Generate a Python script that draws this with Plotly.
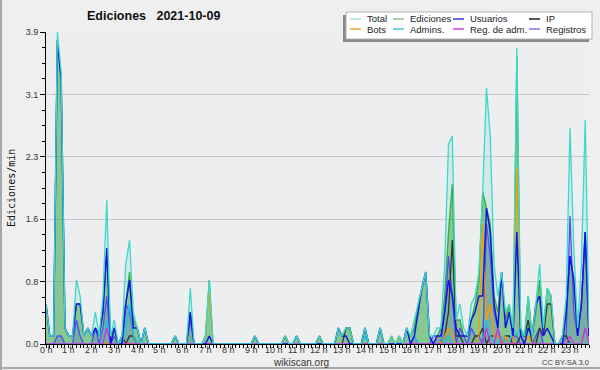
import plotly.graph_objects as go

# ---------------- data (10-minute steps, 6 values per hour) ----------------
hour_labels = [f"{h} h" for h in range(24)]
y_tick_vals = [0, 0.78, 1.56, 2.34, 3.12, 3.9]
y_tick_text = ["0.0", "0.8", "1.6", "2.3", "3.1", "3.9"]

total = [
    0.5, 0.1, 0.1, 3.9, 3.4, 0.2,
    0.1, 0.1, 0.8, 0.6, 0.1, 0.2,
    0.1, 0.4, 0.1, 0.6, 1.8, 0.1,
    0.3, 0.0, 0.1, 1.0, 1.3, 0.4,
    0.2, 0.0, 0.2, 0.0, 0.0, 0.0,
    0.0, 0.0, 0.0, 0.0, 0.1, 0.0,
    0.0, 0.0, 0.7, 0.0, 0.0, 0.0,
    0.1, 0.8, 0.0, 0.0, 0.0, 0.0,
    0.0, 0.0, 0.0, 0.0, 0.0, 0.0,
    0.0, 0.1, 0.0, 0.0, 0.0, 0.0,
    0.0, 0.0, 0.0, 0.1, 0.0, 0.0,
    0.1, 0.0, 0.0, 0.0, 0.0, 0.0,
    0.1, 0.0, 0.0, 0.0, 0.0, 0.2,
    0.1, 0.2, 0.2, 0.0, 0.0, 0.0,
    0.2, 0.0, 0.0, 0.0, 0.2, 0.0,
    0.0, 0.1, 0.0, 0.1, 0.0, 0.2,
    0.1, 0.3, 0.5, 0.7, 0.9, 0.1,
    0.1, 0.2, 0.2, 1.0, 2.5, 2.6,
    0.3, 0.5, 0.2, 0.1, 0.5, 0.6,
    0.9, 1.9, 3.2, 2.6, 1.0, 0.6,
    0.9, 0.4, 0.5, 0.2, 3.7, 0.2,
    0.1, 0.6, 0.1, 0.5, 1.0, 0.2,
    0.7, 0.6, 0.0, 0.0, 0.1, 0.6,
    2.7, 1.2, 0.2, 1.0, 2.8, 0.2,
]

ediciones = [
    0.5, 0.1, 0.1, 3.8, 3.3, 0.2,
    0.1, 0.1, 0.5, 0.5, 0.1, 0.2,
    0.1, 0.2, 0.1, 0.4, 1.2, 0.1,
    0.2, 0.0, 0.1, 0.5, 0.9, 0.3,
    0.2, 0.0, 0.2, 0.0, 0.0, 0.0,
    0.0, 0.0, 0.0, 0.0, 0.1, 0.0,
    0.0, 0.0, 0.4, 0.0, 0.0, 0.0,
    0.1, 0.8, 0.0, 0.0, 0.0, 0.0,
    0.0, 0.0, 0.0, 0.0, 0.0, 0.0,
    0.0, 0.1, 0.0, 0.0, 0.0, 0.0,
    0.0, 0.0, 0.0, 0.1, 0.0, 0.0,
    0.1, 0.0, 0.0, 0.0, 0.0, 0.0,
    0.1, 0.0, 0.0, 0.0, 0.0, 0.2,
    0.1, 0.2, 0.2, 0.0, 0.0, 0.0,
    0.2, 0.0, 0.0, 0.0, 0.2, 0.0,
    0.0, 0.1, 0.0, 0.1, 0.0, 0.2,
    0.1, 0.2, 0.5, 0.7, 0.9, 0.1,
    0.0, 0.1, 0.2, 0.6, 1.4, 2.0,
    0.3, 0.3, 0.1, 0.1, 0.3, 0.5,
    0.8, 1.9, 1.7, 1.5, 0.6, 0.4,
    0.9, 0.3, 0.5, 0.1, 3.6, 0.2,
    0.1, 0.6, 0.1, 0.4, 0.8, 0.2,
    0.7, 0.6, 0.0, 0.0, 0.1, 0.5,
    1.1, 0.8, 0.1, 0.5, 1.4, 0.1,
]

usuarios = [
    0.5, 0.1, 0.1, 3.8, 3.3, 0.2,
    0.1, 0.1, 0.5, 0.5, 0.1, 0.2,
    0.1, 0.2, 0.1, 0.4, 1.2, 0.0,
    0.2, 0.0, 0.0, 0.5, 0.8, 0.2,
    0.2, 0.0, 0.2, 0.0, 0.0, 0.0,
    0.0, 0.0, 0.0, 0.0, 0.1, 0.0,
    0.0, 0.0, 0.4, 0.0, 0.0, 0.0,
    0.0, 0.1, 0.0, 0.0, 0.0, 0.0,
    0.0, 0.0, 0.0, 0.0, 0.0, 0.0,
    0.0, 0.1, 0.0, 0.0, 0.0, 0.0,
    0.0, 0.0, 0.0, 0.0, 0.0, 0.0,
    0.1, 0.0, 0.0, 0.0, 0.0, 0.0,
    0.0, 0.0, 0.0, 0.0, 0.0, 0.2,
    0.1, 0.1, 0.0, 0.0, 0.0, 0.0,
    0.2, 0.0, 0.0, 0.0, 0.2, 0.0,
    0.0, 0.0, 0.0, 0.0, 0.0, 0.2,
    0.0, 0.1, 0.4, 0.7, 0.9, 0.1,
    0.0, 0.1, 0.1, 0.4, 0.8, 0.6,
    0.2, 0.1, 0.1, 0.1, 0.3, 0.4,
    0.6, 0.6, 1.7, 1.4, 0.5, 0.2,
    0.9, 0.2, 0.4, 0.1, 1.4, 0.1,
    0.0, 0.2, 0.1, 0.5, 0.6, 0.1,
    0.2, 0.1, 0.0, 0.0, 0.0, 0.4,
    1.1, 0.8, 0.1, 0.5, 1.4, 0.1,
]

ip = [
    0.0, 0.0, 0.0, 0.0, 0.0, 0.0,
    0.0, 0.0, 0.0, 0.0, 0.0, 0.0,
    0.0, 0.0, 0.0, 0.0, 0.0, 0.0,
    0.0, 0.0, 0.1, 0.0, 0.1, 0.1,
    0.0, 0.0, 0.0, 0.0, 0.0, 0.0,
    0.0, 0.0, 0.0, 0.0, 0.0, 0.0,
    0.0, 0.0, 0.0, 0.0, 0.0, 0.0,
    0.0, 0.0, 0.0, 0.0, 0.0, 0.0,
    0.0, 0.0, 0.0, 0.0, 0.0, 0.0,
    0.0, 0.0, 0.0, 0.0, 0.0, 0.0,
    0.0, 0.0, 0.0, 0.1, 0.0, 0.0,
    0.0, 0.0, 0.0, 0.0, 0.0, 0.0,
    0.1, 0.0, 0.0, 0.0, 0.0, 0.0,
    0.0, 0.2, 0.2, 0.0, 0.0, 0.0,
    0.0, 0.0, 0.0, 0.0, 0.0, 0.0,
    0.0, 0.0, 0.0, 0.0, 0.0, 0.0,
    0.0, 0.0, 0.0, 0.0, 0.0, 0.0,
    0.0, 0.0, 0.0, 0.1, 0.4, 1.3,
    0.1, 0.1, 0.0, 0.0, 0.0, 0.1,
    0.1, 0.2, 0.0, 0.1, 0.1, 0.1,
    0.0, 0.1, 0.1, 0.0, 0.0, 0.1,
    0.1, 0.3, 0.0, 0.0, 0.2, 0.1,
    0.5, 0.5, 0.0, 0.0, 0.1, 0.1,
    0.0, 0.0, 0.0, 0.0, 0.0, 0.0,
]

bots = [0.0] * 42 + [0.1, 0.7, 0.0, 0.0, 0.0, 0.0] + [0.0] * 42 + [
    0.0, 0.1, 0.0, 0.1, 0.0, 0.0,
    0.0, 0.0, 0.0, 0.0, 0.0, 0.0,
    0.0, 0.1, 0.0, 0.1, 0.2, 0.1,
    0.0, 0.0, 0.0, 0.0, 0.0, 0.0,
    0.1, 1.5, 0.3, 0.5, 0.1, 0.1,
    0.0, 0.1, 0.0, 0.0, 2.2, 0.1,
    0.0, 0.1, 0.0, 0.0, 0.0, 0.0,
    0.0, 0.0, 0.0, 0.0, 0.0, 0.0,
    0.0, 0.0, 0.0, 0.0, 0.0, 0.0,
]

admins = [
    0.0, 0.0, 0.0, 0.0, 0.0, 0.0,
    0.0, 0.0, 0.0, 0.0, 0.0, 0.0,
    0.0, 0.0, 0.0, 0.0, 0.3, 0.0,
    0.0, 0.0, 0.0, 0.2, 0.5, 0.1,
    0.0, 0.0, 0.0, 0.0, 0.0, 0.0,
    0.0, 0.0, 0.0, 0.0, 0.0, 0.0,
    0.0, 0.0, 0.0, 0.0, 0.0, 0.0,
    0.0, 0.1, 0.0, 0.0, 0.0, 0.0,
    0.0, 0.0, 0.0, 0.0, 0.0, 0.0,
    0.0, 0.0, 0.0, 0.0, 0.0, 0.0,
    0.0, 0.0, 0.0, 0.0, 0.0, 0.0,
    0.0, 0.0, 0.0, 0.0, 0.0, 0.0,
    0.0, 0.0, 0.0, 0.0, 0.0, 0.0,
    0.0, 0.0, 0.0, 0.0, 0.0, 0.0,
    0.1, 0.0, 0.0, 0.0, 0.0, 0.0,
    0.0, 0.0, 0.0, 0.0, 0.0, 0.0,
    0.0, 0.1, 0.0, 0.0, 0.0, 0.0,
    0.0, 0.0, 0.1, 0.0, 0.1, 0.0,
    0.0, 0.0, 0.0, 0.0, 0.0, 0.0,
    0.0, 0.0, 0.3, 0.1, 0.0, 0.0,
    0.1, 0.0, 0.0, 0.2, 0.1, 0.2,
    0.0, 0.0, 0.0, 0.0, 0.0, 0.0,
    0.0, 0.0, 0.0, 0.0, 0.0, 0.0,
    0.0, 0.0, 0.0, 0.0, 0.0, 0.0,
]

reg_adm = [0.0] * 12 + [0.0, 0.0, 0.0, 0.0, 0.2, 0.0] + [0.0] * 96 + [
    0.0, 0.0, 0.2, 0.0, 0.0, 0.2,
    0.0, 0.0, 0.0, 0.0, 0.0, 0.0,
    0.0, 0.0, 0.0, 0.0, 0.0, 0.0,
    0.0, 0.0, 0.0, 0.0, 0.0, 0.0,
    0.1, 0.0, 0.0, 0.0, 0.2, 0.0,
]

registros = [
    0.0, 0.0, 0.0, 0.1, 0.1, 0.0,
    0.0, 0.0, 0.3, 0.1, 0.0, 0.0,
    0.0, 0.2, 0.0, 0.2, 0.6, 0.0,
    0.1, 0.0, 0.0, 0.5, 0.4, 0.1,
    0.0, 0.0, 0.0, 0.0, 0.0, 0.0,
    0.0, 0.0, 0.0, 0.0, 0.0, 0.0,
    0.0, 0.0, 0.3, 0.0, 0.0, 0.0,
    0.0, 0.0, 0.0, 0.0, 0.0, 0.0,
    0.0, 0.0, 0.0, 0.0, 0.0, 0.0,
    0.0, 0.0, 0.0, 0.0, 0.0, 0.0,
    0.0, 0.0, 0.0, 0.0, 0.0, 0.0,
    0.0, 0.0, 0.0, 0.0, 0.0, 0.0,
    0.0, 0.0, 0.0, 0.0, 0.0, 0.0,
    0.0, 0.0, 0.0, 0.0, 0.0, 0.0,
    0.0, 0.0, 0.0, 0.0, 0.0, 0.0,
    0.0, 0.0, 0.0, 0.0, 0.0, 0.0,
    0.0, 0.1, 0.0, 0.0, 0.0, 0.0,
    0.1, 0.1, 0.0, 0.4, 1.1, 0.6,
    0.0, 0.2, 0.1, 0.0, 0.2, 0.1,
    0.1, 0.0, 1.5, 1.1, 0.4, 0.2,
    0.0, 0.1, 0.0, 0.1, 0.1, 0.0,
    0.0, 0.0, 0.0, 0.1, 0.2, 0.0,
    0.0, 0.0, 0.0, 0.0, 0.0, 0.1,
    1.6, 0.4, 0.1, 0.5, 1.4, 0.1,
]

x_hours = [i / 6 for i in range(len(total))]

# ---------------- figure ----------------
W, H = 600, 370
L_, R_, T_, B_ = 46, 11, 32, 26
PW, PH = W - L_ - R_, H - T_ - B_


def px(xp):
    return (xp - L_) / PW


def py(yp):
    return (H - B_ - yp) / PH


fig = go.Figure()

fig.add_trace(go.Scatter(x=x_hours, y=total, mode="lines", fill="tozeroy",
                         fillcolor="rgba(64,214,200,0.16)",
                         line=dict(color="rgba(0,0,0,0)", width=0), hoverinfo="skip"))
fig.add_trace(go.Scatter(x=x_hours, y=ediciones, mode="lines", fill="tozeroy",
                         fillcolor="rgba(40,160,40,0.45)",
                         line=dict(color="#3aaa3a", width=1.3)))
fig.add_trace(go.Scatter(x=x_hours, y=registros, mode="lines", fill="tozeroy",
                         fillcolor="rgba(60,60,230,0.18)",
                         line=dict(color="#5050f0", width=1.3)))
fig.add_trace(go.Scatter(x=x_hours, y=ip, mode="lines", line=dict(color="#333333", width=1.3)))
fig.add_trace(go.Scatter(x=x_hours, y=bots, mode="lines", line=dict(color="#ff9900", width=1.3)))
fig.add_trace(go.Scatter(x=x_hours, y=admins, mode="lines", line=dict(color="#22c0e0", width=1.3)))
fig.add_trace(go.Scatter(x=x_hours, y=reg_adm, mode="lines", line=dict(color="#cc33dd", width=1.3)))
fig.add_trace(go.Scatter(x=x_hours, y=usuarios, mode="lines", line=dict(color="#1414e6", width=1.5)))
fig.add_trace(go.Scatter(x=x_hours, y=total, mode="lines", line=dict(color="#3ed8c8", width=1.3)))

tick_font = dict(family="Liberation Sans, Arial, sans-serif", size=9, color="#333333")

fig.update_layout(
    width=W, height=H,
    margin=dict(l=L_, r=R_, t=T_, b=B_, pad=0),
    paper_bgcolor="#efefef",
    plot_bgcolor="#edeef0",
    showlegend=False,
    xaxis=dict(
        range=[0, x_hours[-1]],
        tickmode="array", tickvals=list(range(24)), ticktext=hour_labels,
        showticklabels=False,
        ticks="outside", ticklen=3, tickcolor="#000", tickwidth=1,
        showline=True, linecolor="#000", linewidth=1,
        showgrid=False, zeroline=False, tickfont=tick_font,
        minor=dict(tickmode="linear", tick0=0, dtick=1 / 6, ticks="outside",
                   ticklen=3, tickcolor="#000", showgrid=False),
    ),
    yaxis=dict(
        range=[0, 3.9],
        tickmode="array", tickvals=y_tick_vals, ticktext=y_tick_text,
        ticks="outside", ticklen=5, tickcolor="#000", tickwidth=1,
        showline=True, linecolor="#000", linewidth=1,
        showgrid=True, gridcolor="#c9c9c9", gridwidth=1,
        zeroline=False, tickfont=tick_font,
        minor=dict(tickmode="linear", tick0=0, dtick=0.195, ticks="outside",
                   ticklen=3, tickcolor="#000", showgrid=False),
    ),
)

annotations = []
shapes = []

# x tick labels (hour labels placed on the x scale, tight under the axis)
for h, lab in enumerate(hour_labels):
    annotations.append(dict(
        x=h, xref="x", y=py(350), yref="paper", xanchor="center", yanchor="middle",
        text=lab, showarrow=False, font=tick_font))

# title
annotations.append(dict(
    x=px(85), y=py(16), xref="paper", yref="paper", xanchor="left", yanchor="middle",
    text="<b>Ediciones\u00a0\u00a0 2021-10-09</b>", showarrow=False,
    font=dict(family="Liberation Sans, Arial, sans-serif", size=12.5, color="#111111")))

# y axis title
annotations.append(dict(
    x=px(11), y=py(188), xref="paper", yref="paper", xanchor="center", yanchor="middle",
    text="Ediciones/min", textangle=-90, showarrow=False,
    font=dict(family="DejaVu Sans Mono, monospace", size=10, color="#111111")))

# footer
annotations.append(dict(
    x=px(301), y=py(362), xref="paper", yref="paper", xanchor="center", yanchor="middle",
    text="wikiscan.org", showarrow=False,
    font=dict(family="Liberation Sans, Arial, sans-serif", size=10, color="#333333")))
annotations.append(dict(
    x=px(591), y=py(362), xref="paper", yref="paper", xanchor="right", yanchor="middle",
    text="CC BY-SA 3.0", showarrow=False,
    font=dict(family="Liberation Sans, Arial, sans-serif", size=7.5, color="#444444")))

# outer frame (left and bottom)
shapes.append(dict(type="line", xref="paper", yref="paper",
                   x0=px(1), x1=px(1), y0=py(0), y1=py(370),
                   line=dict(color="#a8a8a8", width=2), layer="above"))
shapes.append(dict(type="line", xref="paper", yref="paper",
                   x0=px(0), x1=px(600), y0=py(368), y1=py(368),
                   line=dict(color="#a8a8a8", width=2), layer="above"))

# legend (drawn manually)
bx0, bx1, by0, by1 = 346, 592, 12, 39
shapes.append(dict(type="rect", xref="paper", yref="paper",
                   x0=px(bx0 - 3), x1=px(bx1 - 3), y0=py(by0 + 3), y1=py(by1 + 3),
                   fillcolor="#888888", line=dict(width=0), layer="above"))
shapes.append(dict(type="rect", xref="paper", yref="paper",
                   x0=px(bx0), x1=px(bx1), y0=py(by0), y1=py(by1),
                   fillcolor="#ffffff", line=dict(color="#b0b0b0", width=1), layer="above"))

legend_items = [
    ("Total", "#a6e2dc", 350, 19), ("Ediciones", "#88cc88", 393, 19),
    ("Usuarios", "#3a3ad8", 453, 19), ("IP", "#222222", 529, 19),
    ("Bots", "#f5a040", 350, 29), ("Admins.", "#44c8e0", 393, 29),
    ("Reg. de adm.", "#cc44dd", 453, 29), ("Registros", "#7a7af0", 529, 29),
]
for name, col, lx, ly in legend_items:
    shapes.append(dict(type="line", xref="paper", yref="paper",
                       x0=px(lx), x1=px(lx + 11), y0=py(ly), y1=py(ly),
                       line=dict(color=col, width=1.5), layer="above"))
    annotations.append(dict(
        x=px(lx + 15), y=py(ly), xref="paper", yref="paper",
        xanchor="left", yanchor="middle", text=name, showarrow=False,
        font=dict(family="Liberation Sans, Arial, sans-serif", size=9.5, color="#222222")))

fig.update_layout(annotations=annotations, shapes=shapes)

fig.write_html("out.html")
